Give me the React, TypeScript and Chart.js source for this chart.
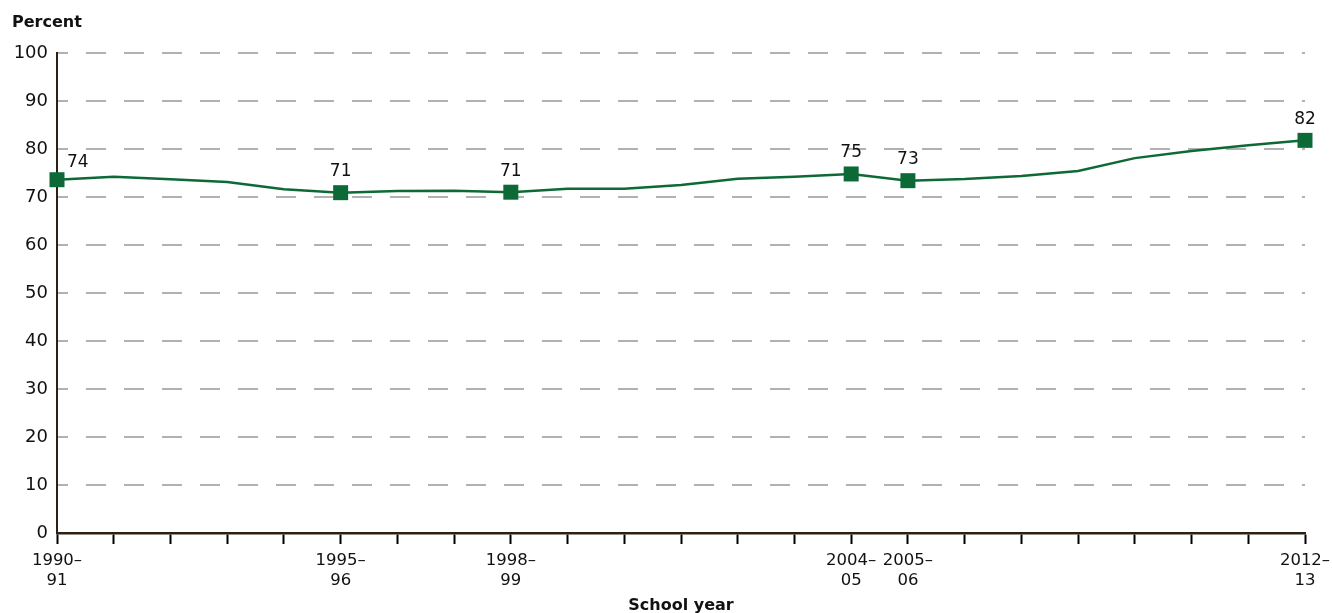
import React, { useEffect, useRef } from "react";
import { Chart, registerables } from "chart.js";

Chart.register(...registerables);

const years: string[] = [
  "1990–91", "1991–92", "1992–93", "1993–94", "1994–95", "1995–96", "1996–97", "1997–98",
  "1998–99", "1999–2000", "2000–01", "2001–02", "2002–03", "2003–04", "2004–05", "2005–06",
  "2006–07", "2007–08", "2008–09", "2009–10", "2010–11", "2011–12", "2012–13",
];
const values: number[] = [
  73.6, 74.2, 73.7, 73.1, 71.6, 70.9, 71.25, 71.3, 71.0, 71.7, 71.7, 72.5, 73.8, 74.2, 74.8,
  73.4, 73.75, 74.4, 75.4, 78.1, 79.6, 80.8, 81.8,
];
// values printed on the chart (null = no label/marker)
const pointLabels: (string | null)[] = [
  "74", null, null, null, null, "71", null, null, "71", null, null, null, null, null, "75",
  "73", null, null, null, null, null, null, "82",
];
// x tick labels (two lines), empty where no label
const tickLabels: (string[] | string)[] = [
  ["1990–", "91"], "", "", "", "", ["1995–", "96"], "", "", ["1998–", "99"], "", "", "", "", "",
  ["2004–", "05"], ["2005–", "06"], "", "", "", "", "", "", ["2012–", "13"],
];
const yTicks: number[] = [0, 10, 20, 30, 40, 50, 60, 70, 80, 90, 100];

const FONT = "'DejaVu Sans', sans-serif";
const TEXT = "#111111";
const GREEN = "#0d6a36";

export default function App() {
  const ref = useRef<HTMLCanvasElement | null>(null);
  useEffect(() => {
    if (!ref.current) return;
    const textPlugin = {
      id: "texts",
      afterDatasetsDraw(chart: any) {
        const ctx = chart.ctx;
        const meta = chart.getDatasetMeta(0);
        ctx.save();
        ctx.fillStyle = TEXT;
        ctx.font = `17px ${FONT}`;
        ctx.textBaseline = "middle";
        pointLabels.forEach((lbl, i) => {
          if (!lbl) return;
          const p = meta.data[i];
          if (i === 0) {
            ctx.textAlign = "left";
            ctx.fillText(lbl, p.x + 10, p.y - 17);
          } else {
            ctx.textAlign = "center";
            ctx.fillText(lbl, p.x, p.y - 21);
          }
        });
        // titles
        ctx.font = `bold 16px ${FONT}`;
        ctx.textAlign = "left";
        ctx.fillText("Percent", 12, 23);
        ctx.textAlign = "center";
        const ca = chart.chartArea;
        ctx.fillText("School year", (ca.left + ca.right) / 2, 606);
        ctx.restore();
      },
    };
    const chart = new Chart(ref.current, {
      type: "line",
      data: {
        labels: years,
        datasets: [
          {
            data: values,
            borderColor: GREEN,
            borderWidth: 2.5,
            backgroundColor: GREEN,
            pointBackgroundColor: GREEN,
            pointBorderColor: GREEN,
            pointStyle: "rect",
            pointRadius: pointLabels.map((l) => (l ? 10.6 : 0)),
            pointBorderWidth: 0,
            tension: 0,
            clip: false as any,
          },
        ],
      },
      options: {
        animation: false,
        responsive: true,
        maintainAspectRatio: false,
        layout: { padding: { left: 8, right: 27, top: 53, bottom: 0 } },
        plugins: { legend: { display: false }, tooltip: { enabled: false }, title: { display: false } },
        scales: {
          x: {
            offset: false,
            grid: {
              display: true,
              drawOnChartArea: false,
              drawTicks: true,
              tickLength: 11,
              tickColor: "#000",
              tickWidth: 2,
            },
            border: { display: true, color: "#2b2115", width: 2.5 },
            ticks: {
              autoSkip: false,
              maxRotation: 0,
              minRotation: 0,
              padding: 6,
              color: TEXT,
              font: { family: FONT, size: 16.5, lineHeight: 1.25 },
              callback: (_v: any, i: number) => tickLabels[i],
            },
            afterFit: (s: any) => {
              s.height = 80;
              s.paddingLeft = 0;
              s.paddingRight = 0;
            },
          },
          y: {
            min: 0,
            max: 100,
            afterBuildTicks: (s: any) => {
              s.ticks = yTicks.map((v) => ({ value: v }));
            },
            grid: {
              display: true,
              drawTicks: false,
              color: "#b1b1b1",
              lineWidth: 2,
            },
            border: { display: true, color: "#2b2115", width: 2, dash: [20, 18], dashOffset: 10 } as any,
            ticks: {
              padding: 9,
              color: TEXT,
              font: { family: FONT, size: 18 },
            },
            afterFit: (s: any) => {
              s.width = 49;
              s.paddingTop = 0;
              s.paddingBottom = 0;
            },
          },
        },
      },
      plugins: [textPlugin],
    });
    return () => chart.destroy();
  }, []);
  return (
    <div style={{ position: "absolute", left: 0, top: 0, width: 1332, height: 613 }}>
      <canvas ref={ref} />
    </div>
  );
}
